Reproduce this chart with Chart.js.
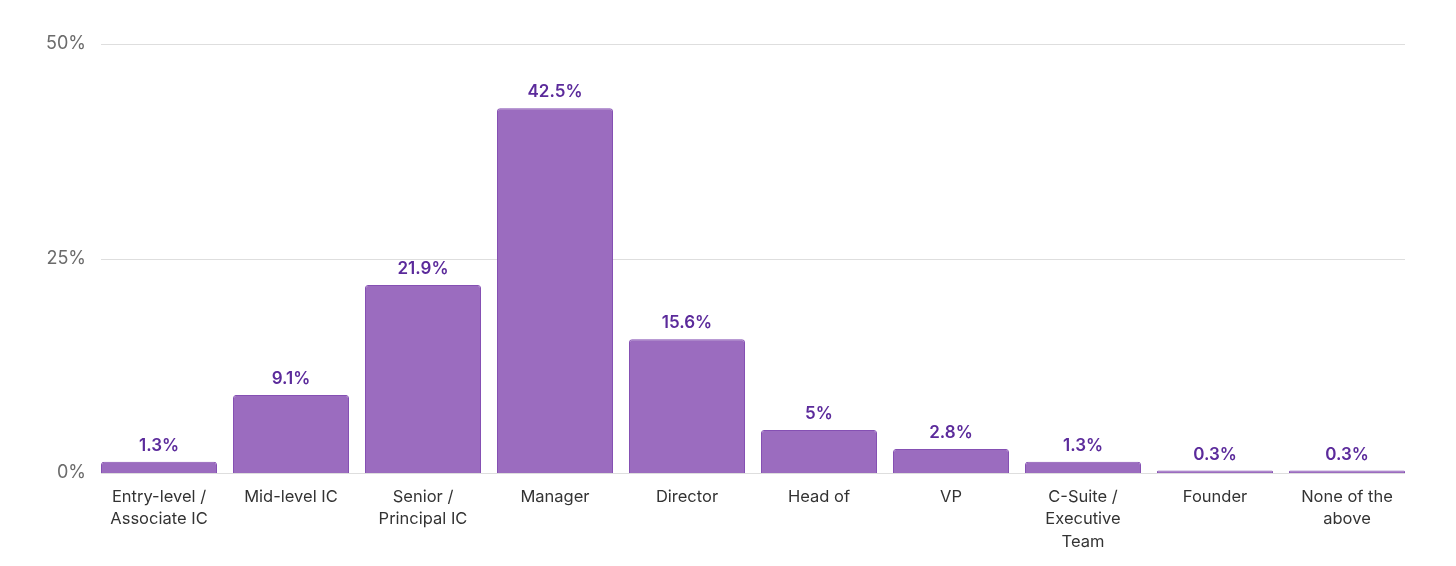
<!DOCTYPE html>
<html lang="en">
<head>
  <meta charset="UTF-8">
  <title>Job level</title>
  <script src="https://cdn.jsdelivr.net/npm/chart.js"></script>
  <style>
    html, body { margin: 0; padding: 0; background: #ffffff; }
    #wrap { width: 1456px; height: 566px; position: relative; }
  </style>
</head>
<body>
<div id="wrap">
  <canvas id="chart"></canvas>
</div>
<script>
  // Datos
  const categories = [
    ['Entry-level /', 'Associate IC'],
    'Mid-level IC',
    ['Senior /', 'Principal IC'],
    'Manager',
    'Director',
    'Head of',
    'VP',
    ['C-Suite /', 'Executive', 'Team'],
    'Founder',
    ['None of the', 'above']
  ];
  const shares = [1.3, 9.1, 21.9, 42.5, 15.6, 5, 2.8, 1.3, 0.3, 0.3];
  const yTicks = [0, 25, 50];

  const FONT = 'Inter, "Noto Sans", sans-serif';

  // lineas de la grilla, solo bajo las barras
  const gridPlugin = {
    id: 'gridLines',
    beforeDatasetsDraw(chart) {
      const ctx = chart.ctx;
      const y = chart.scales.y;
      const meta = chart.getDatasetMeta(0);
      const first = meta.data[0], last = meta.data[meta.data.length - 1];
      const left = first.x - first.width / 2;
      const right = last.x + last.width / 2;
      ctx.save();
      ctx.strokeStyle = '#dedede';
      ctx.lineWidth = 1;
      yTicks.forEach(v => {
        const py = Math.round(y.getPixelForValue(v)) + 0.5;
        ctx.beginPath();
        ctx.moveTo(left, py);
        ctx.lineTo(right, py);
        ctx.stroke();
      });
      ctx.restore();
    }
  };

  // etiquetas de valor encima de cada barra
  const valueLabels = {
    id: 'valueLabels',
    afterDatasetsDraw(chart) {
      const ctx = chart.ctx;
      const meta = chart.getDatasetMeta(0);
      ctx.save();
      ctx.font = '600 17px ' + FONT;
      ctx.fillStyle = '#5b2a9b';
      ctx.textAlign = 'center';
      ctx.textBaseline = 'middle';
      meta.data.forEach((bar, i) => {
        ctx.fillText(shares[i] + '%', bar.x, bar.y - 16);
      });
      ctx.restore();
    }
  };

  const ctx = document.getElementById('chart').getContext('2d');
  new Chart(ctx, {
    type: 'bar',
    data: {
      labels: categories,
      datasets: [{
        data: shares,
        backgroundColor: '#9b6cbf',
        borderColor: '#8550b3',
        borderWidth: 1,
        borderRadius: 3,
        borderSkipped: 'bottom',
        categoryPercentage: 1,
        barPercentage: 116 / 132
      }]
    },
    options: {
      responsive: true,
      maintainAspectRatio: false,
      animation: false,
      layout: { padding: { left: 0, right: 43, top: 44, bottom: 0 } },
      plugins: {
        legend: { display: false },
        tooltip: { enabled: false }
      },
      scales: {
        x: {
          grid: { display: false },
          border: { display: false },
          ticks: {
            color: '#333333',
            padding: 5,
            maxRotation: 0,
            autoSkip: false,
            font: { family: FONT, size: 16.5, lineHeight: 1.35 }
          },
          afterFit(scale) { scale.height = 93; }
        },
        y: {
          min: 0,
          max: 50,
          grid: { display: false },
          border: { display: false },
          afterBuildTicks(scale) { scale.ticks = yTicks.map(v => ({ value: v })); },
          ticks: {
            color: '#6b6b6b',
            padding: -1,
            font: { family: FONT, size: 18 },
            callback: v => v + '%'
          },
          afterFit(scale) { scale.width = 93; }
        }
      }
    },
    plugins: [gridPlugin, valueLabels]
  });
</script>
</body>
</html>
